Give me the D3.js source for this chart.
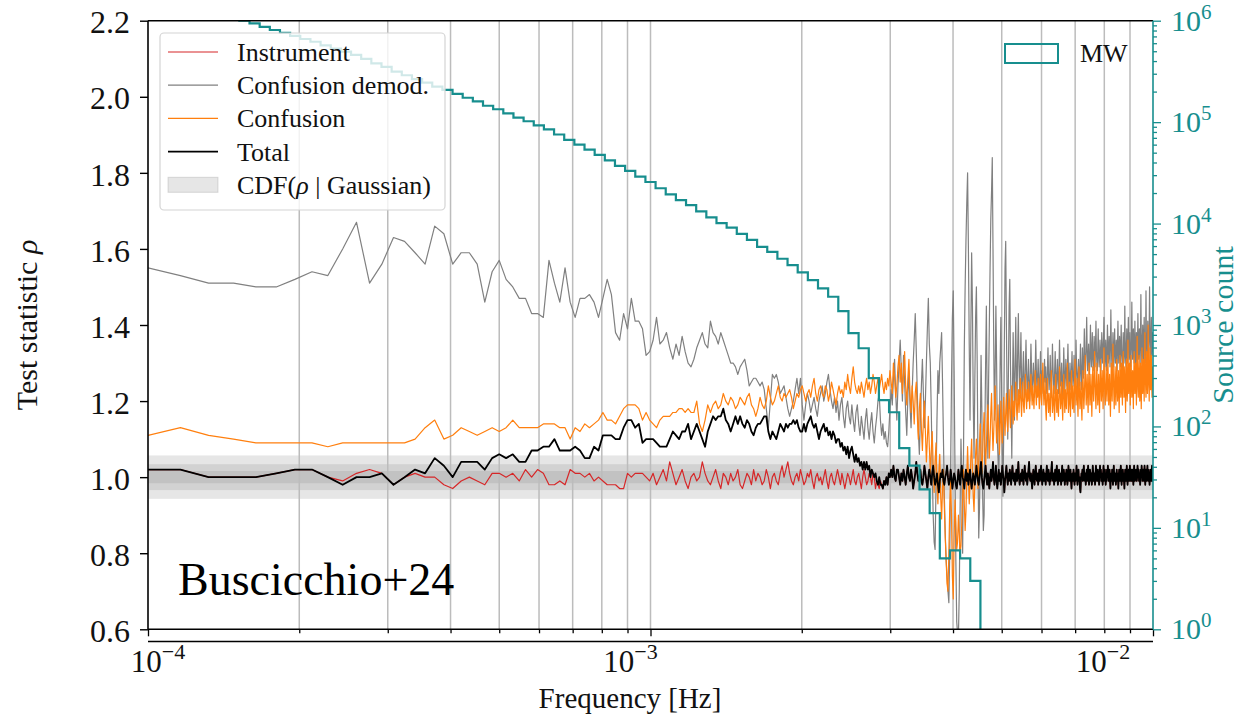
<!DOCTYPE html>
<html>
<head>
<meta charset="utf-8">
<script src="https://cdn.jsdelivr.net/npm/d3@7"></script>
<style>
  body { margin: 0; background: #fff; }
  svg text { font-family: "Liberation Serif", "DejaVu Serif", serif; }
</style>
</head>
<body>
<svg id="chart"></svg>
<script>
// frequency grid of the rho curves (uniform spacing in Hz)
const freqStart = 1e-4;
const freqStep = 1.6e-5;

// test statistic rho, stored as rho x 100, one value per frequency bin
const total = [
  102,102,100,100,100,101,102,102,100,98, 100,100,101,98,100,102,101,105,103,100,
  104,104,104,102,105,106,105,106,104,104, 107,107,108,108,110,107,107,107,108,107,
  105,105,108,107,111,111,111,110,110,113, 115,115,113,114,109,110,110,110,109,108,
  108,108,110,112,111,110,112,112,114,110, 112,114,112,110,108,112,114,116,115,116,
  116,118,115,114,112,114,116,114,116,114, 113,115,114,112,111,113,114,114,115,116,
  116,112,110,112,111,110,112,114,113,112, 114,113,114,114,115,114,115,113,112,112,
  114,112,114,115,116,114,113,114,112,110, 112,113,114,112,113,111,112,110,112,111,
  109,110,110,108,109,107,108,106,108,105, 107,108,106,104,106,104,105,103,104,102,
  104,102,104,102,103,100,102,101,100,101, 99,98,100,98,98,97,99,98,100,98,
  101,100,102,100,103,100,99,102,102,100, 98,
  101,99,102,100,98,101,103,100,99,102, 100,97,99,101,104,101,99,100,102,99,
  98,100,103,101,99,97,100,102,100,98, 101,103,100,98,99,101,98,96,99,101,
  100,102,99,98,100,101,103,100,98,99, 102,100,97,99,101,100,98,97,99,102,
  100,98,101,103,100,99,97,100,102,99, 101,98,100,102,99,97,99,101,100,98,
  100,103,101,99,98,100,102,104,100,98, 97,99,101,103,100,98,101,99,97,100,
  102,99,101,104,100,98,100,103,99,97, 100,102,99,101,98,100,103,101,99,96,
  99,101,103,100,98,101,99,102,100,98, 101,103,100,99,101,98,100,102,99,101,
  104,100,98,100,101,99,102,100,98,101, 103,100,99,101,98,100,102,104,100,99,
  101,99,97,100,102,100,98,101,103,100, 99,101,98,100,102,99,101,103,100,98,
  100,102,99,101,100,98,101,103,100,99, 102,100,98,101,99,102,104,100,99,101,
  98,100,102,99,101,103,100,98,100,102, 99,101,100,98,101,103,99,100,102,100,
  98,101,99,102,100,98,100,103,101,99, 100,102,99,97,100,101,99,102,100,98,
  101,99,100,103,100,98,101,102,99,100, 97,96,99,101,100,102,99,101,103,100,
  99,101,98,100,102,99,101,103,100,98, 100,102,100,99,101,98,100,103,101,99,
  101,100,98,101,103,100,99,101,102,99, 100,98,101,103,100,102,99,101,100,98,
  101,103,99,100,102,100,98,101,99,102, 100,103,101,99,100,102,99,97,100,101,
  99,102,100,98,101,103,100,99,101,100, 98,100,102,99,101,100,97,100,102,100,
  99,101,103,100,98,101,99,102,100,101, 99,97,100,102,101,99,100,103,100,98,
  101,100,102,99,101,103,100,99,101,102, 99,100,102,100,98,101,103,100,99,101,
  100,102,101,99,100,103,101,100,102,99, 101,100,98,101,102,100,103,101,99,100,
  102,100,99,101,103,100,98,101,102,100, 99,101,103,100,102,99,101,100,98,101,
  102,100,101,99,101,103,100,99,101
];

// instrument only, up to ~3 mHz (beyond that it lies under the total curve)
const instrumentLow = [
  102,102,100,100,100,101,102,102,100,99, 101,102,101,98,100,101,100,100,98,97,
  99,100,99,98,101,101,100,101,99,102, 100,102,101,98,98,99,98,102,101,101,
  100,101,99,100,99,98,98,98,97,97, 101,100,101,101,101,100,
  99,101,98,100,102,99,104,101,98,100, 102,99,97,100,101,99,100,104,101,99,
  98,100,102,99,97,101,100,98,101,99, 100,102,98,97,99,101,100,98,102,99,
  101,100,98,99,102,100,97,100,101,99, 98,101,103,100,102,104,101,99,98,100,
  101,99,102,100,98,99,101,100,102,99, 97,100,101,99,100,98,100,102,99,97,
  100,101,99,98,100,102,100,98,101,99, 97,99,101,100,98,100,102,99,98,100,
  101,99,97,100,102,100,98,99,101,100, 98,101,100,97,99,98,97,99,98,97,
  99,98,100,98,101,100,102,100,103,100, 99,102,102,100,98,101,99,102,100,98,
  101,103,100,99,102
];

const confusionDemod = [
  155,153,151,151,150,150,152,154,153,160, 167,151,156,163,162,159,156,166,164,156,
  159,159,156,146,154,157,152,150,147,147, 143,143,142,157,151,146,155,146,142,147,
  147,148,146,142,147,152,148,138,136,143, 139,147,141,141,139,132,133,136,142,135,
  136,138,134,131,135,132,137,133,130,129, 131,134,136,138,135,134,141,138,137,135,
  138,136,134,132,130,130,129,127,129,130, 131,128,124,125,126,126,125,124,125,123,
  118,113,120,127,126,127,125,122,123,124, 121,118,116,118,120,123,126,122,126,119,
  115,119,122,120,117,119,121,118,116,120, 122,124,120,122,125,127,123,120,118,121,
  117,120,115,119,121,116,113,118,120,116, 114,119,115,112,117,119,114,111,116,113,
  110,115,118,113,110,114,117,112,109,113, 116,120,122,115,111,114,110,112,109,108,
  112,118,123,119,126,131,122,115,124,130, 136,128,120,132,125,117,111,121,128,119,
  113,122,130,136,143,133,122,112,106,115, 124,131,122,113,120,130,139,147,135,130,
  118,102,90,83,81,98,115,128,122,130, 134,138,125,110,95,85,78,74,70,67,
  80,102,125,142,149,128,102,78,62,59, 58,70,92,110,100,80,105,134,150,162,
  172,180,160,135,115,138,159,145,120,105, 125,142,150,130,105,84,92,110,132,118,
  96,86,90,112,130,145,122,105,125,140, 155,168,175,184,160,135,115,128,145,130,
  110,105,98,112,130,142,125,108,95,110, 135,155,162,140,122,110,128,145,152,130,
  118,105,122,138,127,115,130,142,126,120, 134,143,129,122,130,138,125,120,128,133,
  124,121,129,136,127,122,126,131,124,120, 127,135,128,122,125,130,126,121,128,136,
  128,123,126,131,125,122,127,133,126,122, 128,125,122,127,131,125,
  129,124,122,128,134,127,123,126,132,125, 121,127,135,129,124,122,128,133,126,123,
  127,131,125,122,129,136,128,124,126,130, 125,121,127,134,128,123,126,131,127,124,
  129,135,128,122,125,130,126,123,128,133, 127,124,126,132,128,122,127,136,129,125,
  123,128,131,126,124,129,135,128,123,127, 134,129,126,132,139,131,127,130,136,142,
  133,128,131,135,130,127,133,140,132,129, 134,138,131,128,132,137,133,129,135,141,
  133,130,128,134,139,132,129,131,136,133, 128,132,138,134,130,133,137,142,134,129,
  132,136,131,128,133,140,135,130,132,137, 133,129,135,144,136,131,128,133,138,132,
  129,134,139,133,130,132,136,131,128,135, 141,134,130,133,137,132,129,135,140,133,
  131,128,133,138,134,130,132,145,136,131, 129,134,139,133,130,136,142,135,131,133,
  138,133,129,132,137,146,136,131,134,139, 133,130,135,141,134,129,132,138,133,130,
  136,143,135,131,133,139,134,130,137,148, 138,132,130,135,140,133,131,136,142,135,
  132,130,137,149,138,133,131,136,141,134, 131,135,140,150,139,133,130,137,142,135,
  132,138,133,136
];

const confusion = [
  111,113,111,110,109,109,109,109,108,109, 109,109,109,109,109,110,113,115,110,111,
  113,112,111,112,113,112,113,115,113,113, 113,113,114,114,114,113,113,110,113,112,
  114,113,114,115,117,115,115,114,116,118, 119,119,119,118,115,117,115,114,113,115,
  116,116,116,117,117,118,118,117,118,117, 117,120,114,112,115,119,117,119,120,118,
  119,122,120,119,121,120,118,119,121,120, 119,121,122,119,118,116,118,121,119,118,
  120,124,121,119,120,122,124,121,120,122, 121,122,123,121,118,120,122,121,123,124,
  122,120,122,123,121,124,126,122,120,123, 124,122,121,124,123,120,122,125,123,121,
  119,122,124,122,123,121,125,123,127,124, 122,126,129,125,123,122,124,122,125,123,
  121,124,126,123,125,122,124,127,125,122, 124,126,123,125,127,124,122,125,123,126,
  124,128,125,122,130,126,121,124,129,132, 125,130,122,127,133,124,119,126,131,122,
  117,124,120,114,122,125,116,110,118,122, 113,107,115,120,112,104,110,116,108,101,
  107,112,103,96,104,109,98,93,101,106, 95,89,97,102,92,84,78,72,70,80,
  92,100,90,74,68,84,94,88,81,83, 90,85,80,82,88,95,102,93,86,91,
  100,108,100,93,98,105,110,102,95,91, 99,106,110,103,97,104,109,114,107,101,
  105,112,117,109,103,108,115,119,111,105, 110,117,122,113,107,112,118,124,115,109,
  114,119,112,106,113,120,114,109,115,121, 116,111,117,122,115,112,118,123,117,113,
  119,124,118,114,120,116,121,125,119,115, 120,123,117,121,126,120,116,122,125,119,
  117,122,127,121,118,123,120,125,121,118, 123,127,122,119,124,121,118,123,128,122,
  119,124,121,126,122,118,123,127,121,119, 124,130,123,119,122,126,
  118,115,121,126,120,117,122,119,116,123, 128,121,117,120,124,118,115,122,127,120,
  117,123,119,116,121,129,122,118,120,125, 119,115,122,127,121,117,123,120,118,124,
  130,122,117,121,125,119,116,123,128,121, 118,124,120,117,123,131,124,119,122,126,
  120,116,123,129,122,118,121,125,119,115, 122,128,123,118,121,126,132,124,119,123,
  127,121,117,124,130,123,119,122,127,121, 116,123,129,124,120,125,133,126,121,118,
  124,130,123,119,122,127,121,117,124,131, 125,120,123,128,122,118,125,134,126,121,
  119,124,129,123,120,126,132,125,119,122, 127,121,116,123,130,124,120,125,135,127,
  122,118,124,129,123,119,125,131,124,120, 123,128,122,117,124,132,126,121,125,130,
  123,119,126,133,127,121,124,129,122,117, 125,131,124,120,123,136,128,122,126,130,
  124,119,125,132,126,121,124,128,123,118, 126,133,127,122,125,130,124,119,127,137,
  129,123,121,127,132,125,120,124,130,124, 118,125,134,127,122,126,131,125,120,128,
  138,130,124,121,127,133,126,122,125,140, 131,125,120,128,134,127,123,126,132,125,
  121,129,124,127
];

// MW source counts in 99 log-spaced bins between 1e-4 and 1e-2 Hz
const mwCounts = [
  2.0e6,1.86e6,1.73e6,1.6e6,1.48e6,1.37e6,1.27e6,1.18e6,1.09e6,1.0e6,
  9.4e5,8.7e5,8.1e5,7.6e5,7.1e5,6.6e5,6.2e5,5.7e5,5.3e5,4.95e5,
  4.6e5,4.2e5,3.8e5,3.5e5,3.15e5,2.9e5,2.65e5,2.45e5,2.24e5,2.08e5,
  1.9e5,1.74e5,1.6e5,1.45e5,1.34e5,1.22e5,1.11e5,1.02e5,9.3e4,8.5e4,
  7.55e4,6.7e4,6.0e4,5.35e4,4.75e4,4.2e4,3.7e4,3.3e4,2.9e4,2.57e4,
  2.23e4,1.94e4,1.70e4,1.52e4,1.32e4,1.15e4,1.01e4,9100,7900,6900,
  5900,5250,4500,3900,3300,2770,2300,1900,1370,830,
  590,300,182,138,61,41,24,14,5,6,
  5,3,0,0,0,0,0,0,0,0, 0,0,0,0,0,0,0,0,0
];

// CDF(rho | Gaussian) bands
const cdfBands = [[0.943, 1.057], [0.966, 1.034], [0.984, 1.016]];
const rhoTicks = [0.6, 0.8, 1.0, 1.2, 1.4, 1.6, 1.8, 2.0, 2.2];
const countExponents = [0, 1, 2, 3, 4, 5, 6];
const freqExponents = [-4, -3, -2];

const instrument = instrumentLow.concat(total.slice(instrumentLow.length));

// layout
const width = 1238, height = 717;
const plot = {left: 148, right: 1153, top: 20.7, bottom: 629.3};
const teal = "#178e8e";

const svg = d3.select("#chart").attr("width", width).attr("height", height);

const x = d3.scaleLog().domain([1e-4, 1e-2]).range([plot.left, plot.right]);
const y = d3.scaleLinear().domain([0.6, 2.2]).range([plot.bottom, plot.top]);
const yCount = d3.scaleLog().domain([1, 1e6]).range([plot.bottom, plot.top]);
// the frequency labels sit on a second, offset axis in the figure
const xLabel = d3.scaleLog().domain([1e-4, 1e-2]).range([158, 1103]);

svg.append("clipPath").attr("id", "clip")
  .append("rect")
  .attr("x", plot.left).attr("y", plot.top)
  .attr("width", plot.right - plot.left).attr("height", plot.bottom - plot.top);

// gaussian bands
svg.append("g").selectAll("rect")
  .data(cdfBands)
  .enter().append("rect")
  .attr("x", plot.left)
  .attr("width", plot.right - plot.left)
  .attr("y", d => y(d[1]))
  .attr("height", d => y(d[0]) - y(d[1]))
  .attr("fill", "gray")
  .attr("fill-opacity", 0.2);

// vertical grid
const logTicks = x.ticks();
const isMajor = d => Math.abs(Math.log10(d) - Math.round(Math.log10(d))) < 1e-6;
svg.append("g").selectAll("line")
  .data(logTicks.slice(1, -1))
  .enter().append("line")
  .attr("x1", d => x(d)).attr("x2", d => x(d))
  .attr("y1", plot.top).attr("y2", plot.bottom)
  .attr("stroke", "#bcbcbc")
  .attr("stroke-width", 1.5);

// rho curves
const series = [
  {values: instrument, color: "#d62728", width: 1.2},
  {values: confusionDemod, color: "#808080", width: 1.2},
  {values: confusion, color: "#ff7f0e", width: 1.2},
  {values: total, color: "#000", width: 1.8}
];
const line = d3.line()
  .x((v, i) => x(freqStart + i * freqStep))
  .y(v => y(v / 100));

const curves = svg.append("g").attr("clip-path", "url(#clip)");
series.forEach(s => {
  curves.append("path")
    .datum(s.values)
    .attr("d", line)
    .attr("fill", "none")
    .attr("stroke", s.color)
    .attr("stroke-width", s.width)
    .attr("stroke-linejoin", "round");
});

// MW histogram (step outline on the right axis)
const binEdges = d3.range(mwCounts.length + 1).map(k => Math.pow(10, -4 + 2 * k / mwCounts.length));
const stepPoints = mwCounts.map((c, k) => [binEdges[k], c]);
stepPoints.push([binEdges[mwCounts.length], mwCounts[mwCounts.length - 1]]);
const stepLine = d3.line()
  .curve(d3.curveStepAfter)
  .x(d => x(d[0]))
  .y(d => yCount(Math.max(d[1], 0.2)));
svg.append("path")
  .datum(stepPoints)
  .attr("clip-path", "url(#clip)")
  .attr("d", stepLine)
  .attr("fill", "none")
  .attr("stroke", teal)
  .attr("stroke-width", 2.2);

// bottom axis ticks
const xAxis = svg.append("g")
  .attr("transform", "translate(0," + plot.bottom + ")")
  .call(d3.axisBottom(x).tickValues(logTicks).tickFormat("").tickSize(4).tickSizeOuter(0));
xAxis.select(".domain").remove();
xAxis.selectAll(".tick line")
  .attr("y2", d => isMajor(d) ? 7 : 4)
  .attr("stroke", "#000")
  .attr("stroke-width", 1.3);

// left axis
const yAxis = svg.append("g")
  .attr("transform", "translate(" + plot.left + ",0)")
  .call(d3.axisLeft(y).tickValues(rhoTicks).tickSize(8).tickPadding(10).tickFormat(d3.format(".1f")));
yAxis.select(".domain").remove();
yAxis.selectAll(".tick line").attr("stroke", "#000").attr("stroke-width", 1.4);
yAxis.selectAll(".tick text").attr("font-size", 32).attr("fill", "#111").attr("dy", "0.38em");

// right axis
const countTicks = [];
countExponents.forEach(e => {
  countTicks.push(Math.pow(10, e));
  if (e < 6) for (let m = 2; m < 10; m++) countTicks.push(m * Math.pow(10, e));
});
const rAxis = svg.append("g")
  .attr("transform", "translate(" + plot.right + ",0)")
  .call(d3.axisRight(yCount).tickValues(countTicks).tickFormat("").tickSize(4).tickSizeOuter(0));
rAxis.select(".domain").remove();
rAxis.selectAll(".tick line")
  .attr("x2", d => isMajor(d) ? 8 : 4)
  .attr("stroke", teal)
  .attr("stroke-width", 1.3);

function powerLabel(sel, exp, supSize, raise) {
  sel.append("tspan").text("10");
  sel.append("tspan")
    .attr("dy", -raise)
    .attr("font-size", supSize)
    .text(exp < 0 ? "\u2212" + (-exp) : String(exp));
}

svg.append("g").selectAll("text")
  .data(countExponents)
  .enter().append("text")
  .attr("x", plot.right + 18)
  .attr("y", e => yCount(Math.pow(10, e)) + 10)
  .attr("font-size", 30)
  .attr("fill", teal)
  .each(function(e) { powerLabel(d3.select(this), e, 21, 12); });

// spines
const spines = svg.append("g").attr("stroke-width", 1.6);
spines.append("line").attr("x1", plot.left).attr("x2", plot.right).attr("y1", plot.top).attr("y2", plot.top).attr("stroke", "#000");
spines.append("line").attr("x1", plot.left).attr("x2", plot.right).attr("y1", plot.bottom).attr("y2", plot.bottom).attr("stroke", "#000");
spines.append("line").attr("x1", plot.left).attr("x2", plot.left).attr("y1", plot.top).attr("y2", plot.bottom).attr("stroke", "#000");
spines.append("line").attr("x1", plot.right).attr("x2", plot.right).attr("y1", plot.top).attr("y2", plot.bottom).attr("stroke", teal);

// second (label) frequency axis
svg.append("line")
  .attr("x1", plot.left).attr("x2", plot.right)
  .attr("y1", 641.5).attr("y2", 641.5)
  .attr("stroke", "#000").attr("stroke-width", 1.3);
svg.append("g").selectAll("text")
  .data(freqExponents)
  .enter().append("text")
  .attr("x", e => xLabel(Math.pow(10, e)))
  .attr("y", 672)
  .attr("text-anchor", "middle")
  .attr("font-size", 31)
  .attr("fill", "#111")
  .each(function(e) { powerLabel(d3.select(this), e, 22, 13); });

// axis titles
svg.append("text")
  .attr("x", 630).attr("y", 708)
  .attr("text-anchor", "middle")
  .attr("font-size", 29)
  .attr("fill", "#111")
  .text("Frequency [Hz]");

const yTitle = svg.append("text")
  .attr("transform", "translate(37,325) rotate(-90)")
  .attr("text-anchor", "middle")
  .attr("font-size", 30)
  .attr("fill", "#111");
yTitle.append("tspan").text("Test statistic ");
yTitle.append("tspan").attr("font-style", "italic").text("\u03C1");

svg.append("text")
  .attr("transform", "translate(1233,325) rotate(-90)")
  .attr("text-anchor", "middle")
  .attr("font-size", 30)
  .attr("fill", teal)
  .text("Source count");

svg.append("text")
  .attr("x", 178).attr("y", 595)
  .attr("font-size", 46)
  .attr("fill", "#000")
  .text("Buscicchio+24");

// main legend
const legend = svg.append("g");
legend.append("rect")
  .attr("x", 160).attr("y", 33)
  .attr("width", 285).attr("height", 177)
  .attr("rx", 4)
  .attr("fill", "#fff").attr("fill-opacity", 0.8)
  .attr("stroke", "#d4d4d4").attr("stroke-width", 1.2);

const legendItems = [
  {label: "Instrument", color: "#d62728", width: 1.2},
  {label: "Confusion demod.", color: "#808080", width: 1.2},
  {label: "Confusion", color: "#ff7f0e", width: 1.2},
  {label: "Total", color: "#000", width: 1.8}
];
legendItems.forEach((item, i) => {
  const cy = 52 + i * 33.2;
  legend.append("line")
    .attr("x1", 168).attr("x2", 218).attr("y1", cy).attr("y2", cy)
    .attr("stroke", item.color).attr("stroke-width", item.width);
  legend.append("text")
    .attr("x", 237).attr("y", cy + 9)
    .attr("font-size", 26).attr("fill", "#111")
    .text(item.label);
});
const cdfY = 52 + 4 * 33.2;
legend.append("rect")
  .attr("x", 168).attr("y", cdfY - 7.5).attr("width", 50).attr("height", 15)
  .attr("fill", "gray").attr("fill-opacity", 0.2)
  .attr("stroke", "gray").attr("stroke-opacity", 0.25);
const cdfText = legend.append("text")
  .attr("x", 237).attr("y", cdfY + 9)
  .attr("font-size", 26).attr("fill", "#111");
cdfText.append("tspan").text("CDF(");
cdfText.append("tspan").attr("font-style", "italic").text("\u03C1");
cdfText.append("tspan").text(" | Gaussian)");

// MW legend
svg.append("rect")
  .attr("x", 1005).attr("y", 44).attr("width", 53).attr("height", 19)
  .attr("fill", "none").attr("stroke", teal).attr("stroke-width", 2);
svg.append("text")
  .attr("x", 1080).attr("y", 62)
  .attr("font-size", 26).attr("fill", "#111")
  .text("MW");
</script>
</body>
</html>
